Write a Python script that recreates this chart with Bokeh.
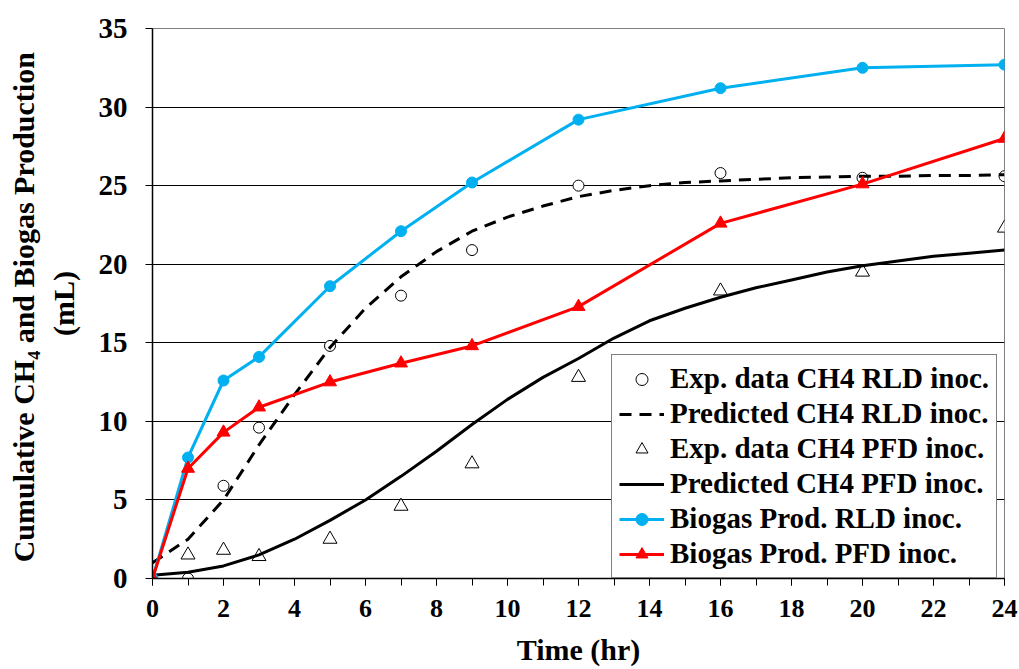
from bokeh.plotting import figure
from bokeh.models import Legend, LegendItem, Range1d, FixedTicker
from bokeh.embed import file_html
from bokeh.resources import INLINE

# ---- data ----
time_biogas = [0, 1, 2, 3, 5, 7, 9, 12, 16, 20, 24]
biogas_rld = [0, 7.7, 12.6, 14.1, 18.6, 22.1, 25.2, 29.2, 31.2, 32.5, 32.7]
biogas_pfd = [0, 7.0, 9.3, 10.9, 12.5, 13.7, 14.8, 17.3, 22.6, 25.1, 28.0]

time_exp = [1, 2, 3, 5, 7, 9, 12, 16, 20, 24]
ch4_rld_exp = [0.0, 5.9, 9.6, 14.8, 18.0, 20.9, 25.0, 25.8, 25.5, 25.6]
ch4_pfd_exp = [1.5, 1.8, 1.4, 2.5, 4.6, 7.3, 12.8, 18.3, 19.5, 22.3]

time_pred = [0, 1, 2, 3, 4, 5, 6, 7, 8, 9, 10, 11, 12, 13, 14, 15, 16, 17, 18, 19, 20, 21, 22, 23, 24]
ch4_rld_pred = [1.0, 2.5, 5.0, 8.5, 11.7, 14.7, 17.2, 19.2, 20.8, 22.1, 23.0, 23.7, 24.3, 24.7, 25.0,
                25.2, 25.3, 25.4, 25.5, 25.55, 25.6, 25.6, 25.65, 25.65, 25.7]
ch4_pfd_pred = [0.2, 0.4, 0.8, 1.5, 2.5, 3.7, 5.0, 6.5, 8.1, 9.8, 11.4, 12.8, 14.0, 15.3, 16.4,
                17.2, 17.9, 18.5, 19.0, 19.5, 19.9, 20.2, 20.5, 20.7, 20.9]

x_ticks = [0, 2, 4, 6, 8, 10, 12, 14, 16, 18, 20, 22, 24]
x_minor = list(range(0, 25))
y_ticks = [0, 5, 10, 15, 20, 25, 30, 35]

labels = ["Exp. data CH4 RLD inoc.", "Predicted CH4 RLD inoc.", "Exp. data CH4 PFD inoc.",
          "Predicted CH4 PFD inoc.", "Biogas Prod. RLD inoc.", "Biogas Prod. PFD inoc."]

FONT = "Liberation Serif"
BLUE = "#00B0F0"
RED = "#FF0000"

p = figure(width=1019, height=669, x_range=Range1d(0, 24), y_range=Range1d(0, 35),
           output_backend="svg", toolbar_location=None,
           min_border_left=152, min_border_right=15, min_border_top=28, min_border_bottom=91)
p.background_fill_color = "white"
p.border_fill_color = "white"
p.outline_line_color = "#808080"
p.outline_line_width = 1

# grid
p.xgrid.visible = False
p.ygrid.ticker = FixedTicker(ticks=y_ticks)
p.ygrid.grid_line_color = "black"
p.ygrid.grid_line_width = 1

# axes
p.xaxis.ticker = FixedTicker(ticks=x_ticks, minor_ticks=x_minor)
p.yaxis.ticker = FixedTicker(ticks=y_ticks)
for ax in (p.xaxis, p.yaxis):
    ax.axis_line_color = "black"
    ax.axis_line_width = 1.5
    ax.major_tick_line_color = "black"
    ax.major_tick_in = 0
    ax.major_tick_out = 7
    ax.major_label_text_font = FONT
    ax.major_label_text_font_style = "bold"
    ax.major_label_text_color = "black"
    ax.axis_label_text_font = FONT
    ax.axis_label_text_font_style = "bold"
    ax.axis_label_text_font_size = "30px"
    ax.axis_label_text_color = "black"
p.xaxis.minor_tick_line_color = "black"
p.xaxis.minor_tick_in = 0
p.xaxis.minor_tick_out = 7
p.yaxis.minor_tick_line_color = None
p.xaxis.major_label_text_font_size = "26px"
p.yaxis.major_label_text_font_size = "29px"
p.xaxis.major_label_standoff = 14
p.yaxis.major_label_standoff = 18
p.xaxis.axis_label = "Time (hr)"
p.xaxis.axis_label_standoff = 13
p.yaxis.axis_label = "Cumulative  CH\u2084 and Biogas Production\n(mL)"
p.yaxis.axis_label_standoff = 16

# series
r_exp_rld = p.scatter(time_exp, ch4_rld_exp, marker="circle", size=11, line_color="black",
                      line_width=1, fill_color="white")
r_pred_rld = p.line(time_pred, ch4_rld_pred, line_color="black", line_width=3,
                    line_dash="12 8", line_join="round")
r_exp_pfd = p.scatter(time_exp, ch4_pfd_exp, marker="triangle", size=14, line_color="black",
                      line_width=1, fill_color="white")
r_pred_pfd = p.line(time_pred, ch4_pfd_pred, line_color="black", line_width=3, line_join="round")
r_rld_line = p.line(time_biogas, biogas_rld, line_color=BLUE, line_width=3)
r_rld_pts = p.scatter(time_biogas, biogas_rld, marker="circle", size=11, color=BLUE)
r_pfd_line = p.line(time_biogas, biogas_pfd, line_color=RED, line_width=3)
r_pfd_pts = p.scatter(time_biogas, biogas_pfd, marker="triangle", size=13, color=RED)

items = [
    LegendItem(label=labels[0], renderers=[r_exp_rld]),
    LegendItem(label=labels[1], renderers=[r_pred_rld]),
    LegendItem(label=labels[2], renderers=[r_exp_pfd]),
    LegendItem(label=labels[3], renderers=[r_pred_pfd]),
    LegendItem(label=labels[4], renderers=[r_rld_line, r_rld_pts]),
    LegendItem(label=labels[5], renderers=[r_pfd_line, r_pfd_pts]),
]
legend = Legend(items=items, location=(459, 0), margin=0, padding=7, spacing=2,
                label_height=30, glyph_height=30, glyph_width=45, label_standoff=6,
                label_text_font=FONT, label_text_font_style="bold", label_text_font_size="29px",
                label_text_color="black", border_line_color="black", border_line_width=1,
                background_fill_color="white", background_fill_alpha=1.0)
p.add_layout(legend)

open("out.html", "w").write(file_html(p, INLINE))
